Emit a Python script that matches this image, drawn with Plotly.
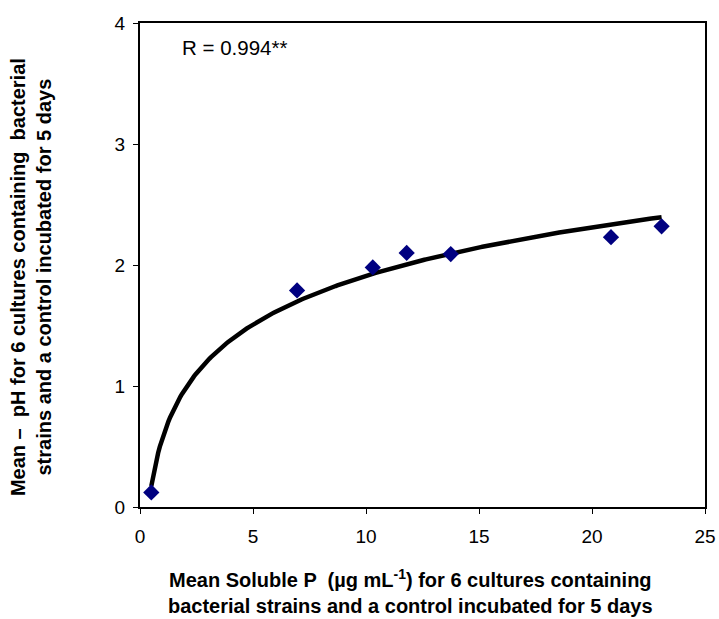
import numpy as np
import plotly.graph_objects as go

# Mean soluble P (µg/mL) and mean pH drop for the cultures
soluble_p = [0.5, 6.95, 10.3, 11.8, 13.75, 20.84, 23.08]
ph_drop = [0.12, 1.79, 1.98, 2.10, 2.09, 2.23, 2.32]
x_ticks = [0, 5, 10, 15, 20, 25]
y_ticks = [0, 1, 2, 3, 4]
r_label = "R = 0.994**"

# Logarithmic trend line: y = a + b*ln(x)
lx = np.log(soluble_p)
b, a = np.polyfit(lx, ph_drop, 1)
x_fit = np.linspace(min(soluble_p), max(soluble_p), 300)
y_fit = a + b * np.log(x_fit)

font_family = "Liberation Sans, Arial, sans-serif"

fig = go.Figure()
fig.add_trace(go.Scatter(
    x=x_fit, y=y_fit, mode="lines",
    line=dict(color="black", width=4.5),
    hoverinfo="skip", showlegend=False,
))
fig.add_trace(go.Scatter(
    x=soluble_p, y=ph_drop, mode="markers",
    marker=dict(symbol="diamond", size=12.5, color="#000080",
                line=dict(width=0)),
    showlegend=False,
))

axis_common = dict(
    showgrid=False, zeroline=False, automargin=False,
    showline=True, linecolor="black", linewidth=2, mirror=True,
    ticks="outside", ticklen=5, tickwidth=1, tickcolor="black",
    tickfont=dict(family=font_family, size=19, color="black"),
)

fig.update_xaxes(range=[0, 25], tickvals=x_ticks, ticklabelstandoff=6,
                 **axis_common)
fig.update_yaxes(range=[0, 4], tickvals=y_ticks, ticklabelstandoff=4,
                 **axis_common)

fig.update_layout(
    width=719, height=619,
    margin=dict(l=140, r=14, t=23, b=112),
    plot_bgcolor="white", paper_bgcolor="white",
    font=dict(family=font_family, color="black"),
    annotations=[
        dict(text=r_label, xref="paper", yref="paper",
             x=0.071, y=0.950, xanchor="left", yanchor="middle",
             showarrow=False, font=dict(size=20.5, color="black")),
        dict(text="<b>Mean Soluble P  (µg mL<sup>-1</sup>) for 6 cultures containing<br>"
                  "bacterial strains and a control incubated for 5 days</b>",
             xref="paper", yref="paper", x=0.478, y=-0.174,
             xanchor="center", yanchor="middle", showarrow=False,
             font=dict(size=20, color="black")),
        dict(text="<b>Mean –  pH for 6 cultures containing  bacterial<br>"
                  "strains and a control incubated for 5 days</b>",
             xref="paper", yref="paper", x=-0.193, y=0.475,
             xanchor="center", yanchor="middle", textangle=-90,
             showarrow=False, font=dict(size=20, color="black")),
    ],
)

fig.write_html("out.html")
